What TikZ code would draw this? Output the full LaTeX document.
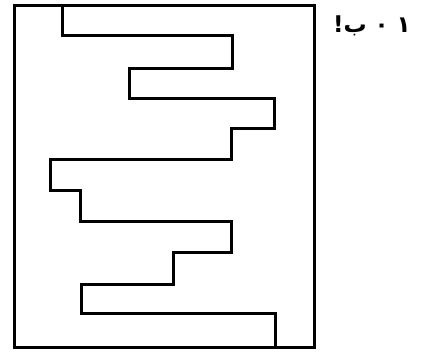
\documentclass[tikz,border=0pt]{standalone}
\usepackage{fontspec}
\TeXXeTstate=1
\newfontfamily\arabicfont[Script=Arabic]{DejaVu Sans}
\tikzset{wall/.style={line width=3pt, line join=miter, line cap=rect}}
\begin{document}
\begin{tikzpicture}[x=1pt,y=-1pt]
\useasboundingbox (0,0) rectangle (424,352);
\coordinate (tl) at (14,6);
\coordinate (br) at (314,348);
\draw[wall] (tl) rectangle (br);
\coordinate (s) at (62,6);
\coordinate (e) at (275,348);
\draw[wall] (s) |- (232,36) |- (129,69) |- (274,99) |- (231,129) |- (50,160)
  |- (80,191) |- (231,222) |- (173,253) |- (81,285) |- (275,314) -- (e);
\node[font=\arabicfont\bfseries\fontsize{23}{28}\selectfont, anchor=east, inner sep=0pt] (lbl) at (411,26) {\beginR ١ ٠ ب!\endR};
\end{tikzpicture}
\end{document}
